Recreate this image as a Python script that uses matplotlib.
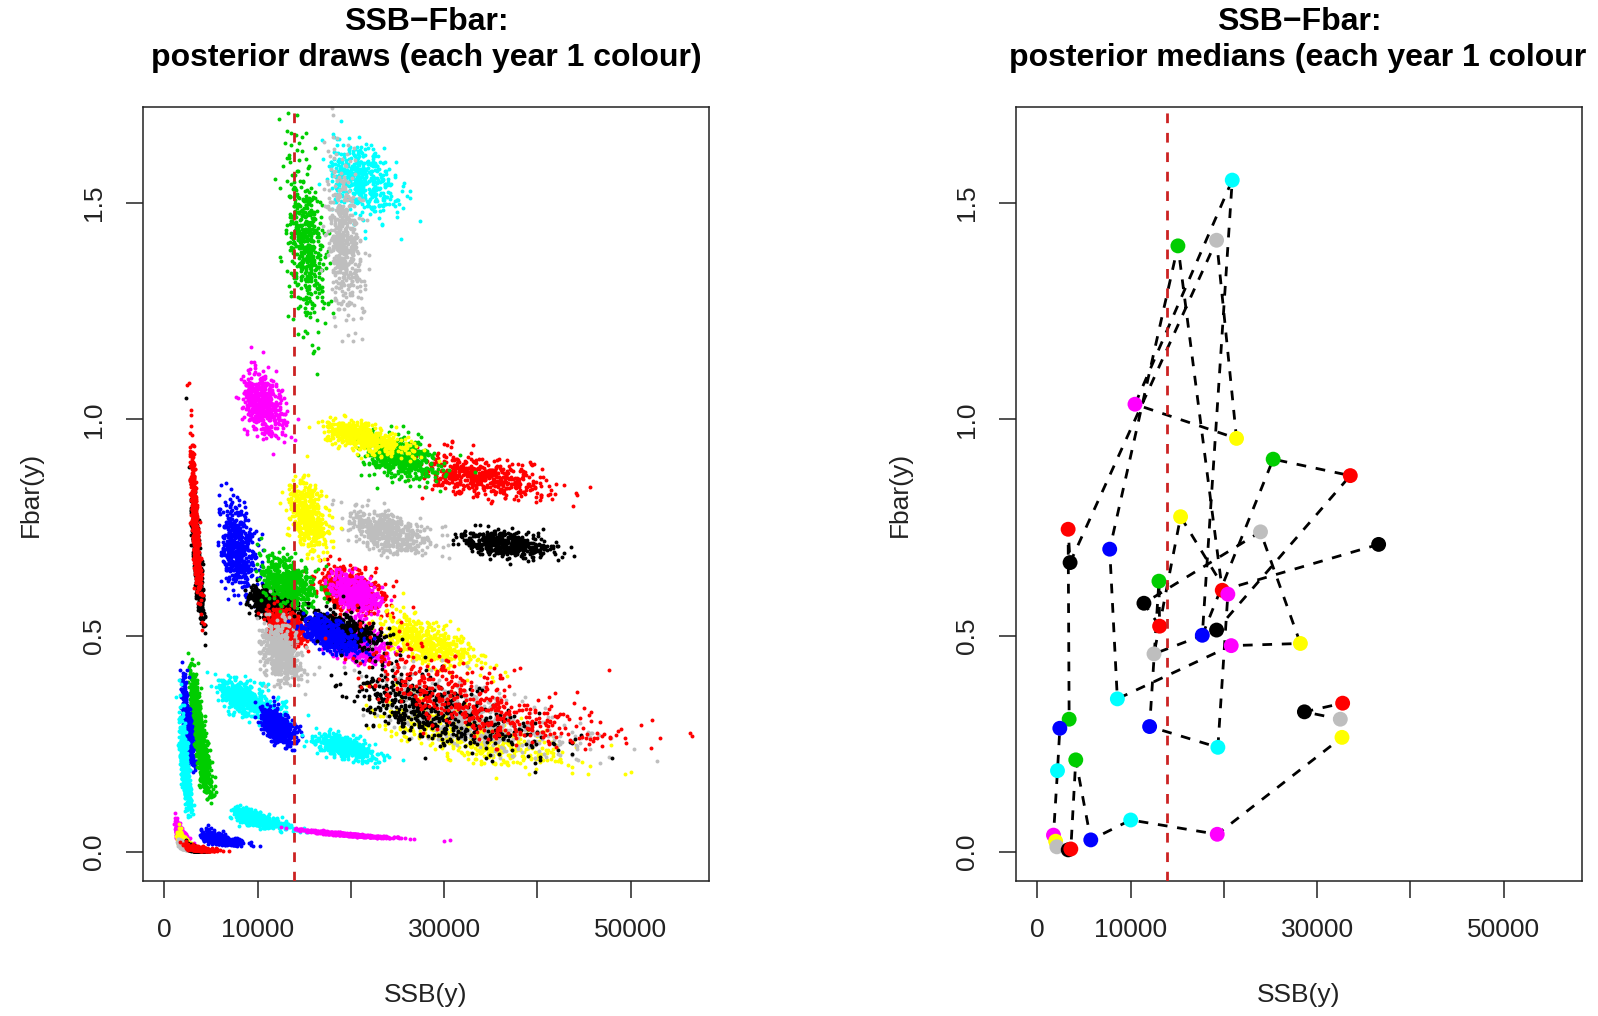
import numpy as np
import matplotlib
matplotlib.use("Agg")
import matplotlib.pyplot as plt

plt.rcParams['font.family'] = ['Liberation Sans', 'DejaVu Sans']

# R default palette, one colour per year (cycled)
palette = ['black', 'red', '#00CD00', 'blue', 'cyan', 'magenta', 'yellow', '#BEBEBE']

years = list(range(1, 43))

# posterior medians
ssb_med = [36590, 19820, 15065, 7750, 8570, 20780, 28200, 23920, 11420, 13100,
           13030, 12030, 19350, 20420, 15350, 12500, 19210, 33550, 25280, 17680,
           20890, 10460, 21350, 19210, 3500, 3290, 3400, 2400, 2150, 1720,
           1950, 2080, 3300, 3580, 4110, 5720, 10000, 19280, 32660, 32480,
           28630, 32730]
fbar_med = [0.711, 0.605, 1.401, 0.700, 0.354, 0.477, 0.482, 0.740, 0.575, 0.522,
            0.626, 0.290, 0.242, 0.596, 0.775, 0.458, 0.513, 0.870, 0.908, 0.501,
            1.553, 1.035, 0.956, 1.414, 0.669, 0.746, 0.307, 0.286, 0.188, 0.039,
            0.025, 0.012, 0.005, 0.007, 0.213, 0.028, 0.074, 0.041, 0.265, 0.307,
            0.324, 0.344]

# spread of each year's posterior cloud (log-scale sd) and SSB/F correlation
ssb_cv = [0.063, 0.09, 0.065, 0.13, 0.19, 0.07, 0.089, 0.092, 0.11, 0.084,
          0.11, 0.075, 0.088, 0.059, 0.065, 0.085, 0.094, 0.104, 0.079, 0.085,
          0.086, 0.10, 0.103, 0.05, 0.086, 0.085, 0.10, 0.125, 0.14, 0.17,
          0.15, 0.15, 0.12, 0.2, 0.097, 0.175, 0.14, 0.13, 0.16, 0.16,
          0.18, 0.20]
fbar_cv = [0.021, 0.041, 0.065, 0.071, 0.062, 0.04, 0.062, 0.034, 0.035, 0.038,
           0.045, 0.069, 0.062, 0.034, 0.052, 0.076, 0.039, 0.029, 0.028, 0.04,
           0.026, 0.035, 0.021, 0.06, 0.105, 0.115, 0.16, 0.175, 0.27, 0.26,
           0.3, 0.35, 0.5, 0.4, 0.23, 0.25, 0.16, 0.12, 0.15, 0.15,
           0.16, 0.17]
rho = [-0.4, -0.3, -0.3, -0.3, -0.5, -0.3, -0.6, -0.5, -0.4, -0.5,
       -0.4, -0.5, -0.6, -0.4, -0.4, -0.3, -0.5, -0.4, -0.4, -0.5,
       -0.3, -0.3, -0.6, -0.3, -0.8, -0.8, -0.7, -0.7, -0.7, -0.7,
       -0.7, -0.7, -0.7, -0.7, -0.7, -0.6, -0.7, -0.95, -0.7, -0.7,
       -0.7, -0.75]

ssb_ref = 13900
n_draws = 500

xlim = (-2300, 58400)
ylim = (-0.067, 1.722)
dash = (0, (3.5, 3.5))

fig = plt.figure(figsize=(15.98, 10.16), dpi=100)
W, H = 1598, 1016
ax1 = fig.add_axes([143 / W, (H - 881) / H, 566 / W, 774 / H])
ax2 = fig.add_axes([1016 / W, (H - 881) / H, 566 / W, 774 / H])

# left: posterior draws
rng = np.random.default_rng(11)
for i in range(len(years)):
    cov = [[1.0, rho[i]], [rho[i], 1.0]]
    z = rng.multivariate_normal([0, 0], cov, size=n_draws)
    s = ssb_med[i] * np.exp(ssb_cv[i] * z[:, 0])
    f = fbar_med[i] * np.exp(fbar_cv[i] * z[:, 1])
    ax1.scatter(s, f, s=8, color=palette[i % 8], linewidths=0)

# right: medians joined year to year
cols = [palette[i % 8] for i in range(len(years))]
ax2.plot(ssb_med, fbar_med, color='black', lw=2, ls=dash, zorder=2)
ax2.scatter(ssb_med, fbar_med, s=115, c=cols, linewidths=0, zorder=3)

titles = ['posterior draws (each year 1 colour)',
          'posterior medians (each year 1 colour']
for ax, t in zip([ax1, ax2], titles):
    ax.axvline(ssb_ref, color='#CC2222', lw=2, ls=dash, zorder=4)
    ax.set_xlim(*xlim)
    ax.set_ylim(*ylim)
    ax.set_xticks([0, 10000, 20000, 30000, 40000, 50000])
    ax.set_xticklabels(['0', '10000', '', '30000', '', '50000'])
    ax.set_yticks([0, 0.5, 1.0, 1.5])
    ax.set_yticklabels(['0.0', '0.5', '1.0', '1.5'], rotation=90, va='center')
    ax.tick_params(length=12.5, width=1.1, labelsize=19, pad=14, colors='#222222')
    for sp in ax.spines.values():
        sp.set_linewidth(1.1)
        sp.set_color('#222222')
    pos = ax.get_position()
    xc = (pos.x0 + pos.x1) / 2
    fig.text(xc, 1 - 22 / H, 'SSB\u2212Fbar:', ha='center', va='center',
             fontsize=23, fontweight='bold')
    fig.text(xc if ax is ax1 else 1009 / W, 1 - 58 / H, t,
             ha='center' if ax is ax1 else 'left', va='center',
             fontsize=23, fontweight='bold')
    fig.text(xc, 1 - 995 / H, 'SSB(y)', ha='center', va='center', fontsize=19,
             color='#222222')

fig.text(31 / W, 1 - 494 / H, 'Fbar(y)', ha='center', va='center', rotation=90,
         fontsize=19, color='#222222')
fig.text(900 / W, 1 - 494 / H, 'Fbar(y)', ha='center', va='center', rotation=90,
         fontsize=19, color='#222222')

fig.savefig('out.png', dpi=100)
